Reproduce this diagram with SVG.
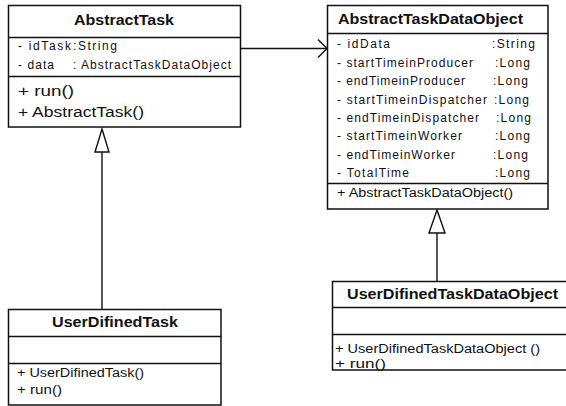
<svg xmlns="http://www.w3.org/2000/svg" width="566" height="406" viewBox="0 0 566 406">
<style>
.box{fill:#fff;stroke:#111;stroke-width:1.5}
.div{stroke:#111;stroke-width:1.3;fill:none}
.t{font-family:"Liberation Sans",Arial,sans-serif;fill:#111}
.title{font-size:15px;font-weight:bold}
.attr{font-size:12px}
.meth{font-size:14px}
.conn{stroke:#111;stroke-width:1.4;fill:none}
.tri{fill:#fff;stroke:#111;stroke-width:1.4}
</style>
<rect width="566" height="406" fill="#fff"/>
<g id="connectors">
  <line class="conn" x1="240" y1="48.5" x2="326" y2="48.5"/>
  <polyline class="conn" points="318,39.5 327,48.5 318,57.5"/>
  <line class="conn" x1="102" y1="152" x2="102" y2="309"/>
  <polygon class="tri" points="102,129 95,152 109,152"/>
  <line class="conn" x1="437" y1="233" x2="437" y2="281"/>
  <polygon class="tri" points="437,210 429,233 445,233"/>
</g>
<g id="AbstractTask">
  <rect class="box" x="8.5" y="5.5" width="232" height="121.5"/>
  <line class="div" x1="8.5" y1="37.5" x2="240.5" y2="37.5"/>
  <line class="div" x1="8.5" y1="76.5" x2="240.5" y2="76.5"/>
  <text class="t title" x="74" y="24.5" textLength="100" lengthAdjust="spacingAndGlyphs">AbstractTask</text>
  <text class="t attr" x="18" y="50"><tspan x="18" textLength="53">- idTask</tspan><tspan x="73" textLength="44">:String</tspan></text>
  <text class="t attr" x="18" y="68.5"><tspan x="18" textLength="36">- data</tspan><tspan x="73" textLength="158">: AbstractTaskDataObject</tspan></text>
  <text class="t meth" x="18" y="96" textLength="56" lengthAdjust="spacingAndGlyphs">+ run()</text>
  <text class="t meth" x="18" y="117" textLength="126" lengthAdjust="spacingAndGlyphs">+ AbstractTask()</text>
</g>
<g id="AbstractTaskDataObject">
  <rect class="box" x="327.5" y="5.5" width="220.5" height="203.5"/>
  <line class="div" x1="327.5" y1="33.5" x2="548" y2="33.5"/>
  <line class="div" x1="327.5" y1="183.5" x2="548" y2="183.5"/>
  <text class="t title" x="338" y="23.5" textLength="185" lengthAdjust="spacingAndGlyphs">AbstractTaskDataObject</text>
  <text class="t attr" y="48"><tspan x="337" textLength="53">- idData</tspan><tspan x="492" textLength="43">:String</tspan></text>
  <text class="t attr" y="66.5"><tspan x="337" textLength="136">- startTimeinProducer</tspan><tspan x="495" textLength="35">:Long</tspan></text>
  <text class="t attr" y="85"><tspan x="337" textLength="128">- endTimeinProducer</tspan><tspan x="493" textLength="35">:Long</tspan></text>
  <text class="t attr" y="103.5"><tspan x="337" textLength="150">- startTimeinDispatcher</tspan><tspan x="494" textLength="35">:Long</tspan></text>
  <text class="t attr" y="122"><tspan x="337" textLength="142">- endTimeinDispatcher</tspan><tspan x="496" textLength="35">:Long</tspan></text>
  <text class="t attr" y="140"><tspan x="337" textLength="125">- startTimeinWorker</tspan><tspan x="495" textLength="35">:Long</tspan></text>
  <text class="t attr" y="158.5"><tspan x="337" textLength="118">- endTimeinWorker</tspan><tspan x="493" textLength="35">:Long</tspan></text>
  <text class="t attr" y="177"><tspan x="337" textLength="72">- TotalTime</tspan><tspan x="495" textLength="35">:Long</tspan></text>
  <text class="t attr" x="337" y="197" textLength="176" lengthAdjust="spacingAndGlyphs">+ AbstractTaskDataObject()</text>
</g>
<g id="UserDifinedTask">
  <rect class="box" x="8.5" y="309.5" width="212.5" height="95.5"/>
  <line class="div" x1="8.5" y1="336.5" x2="221" y2="336.5"/>
  <line class="div" x1="8.5" y1="363.5" x2="221" y2="363.5"/>
  <text class="t title" x="52" y="326.5" textLength="126" lengthAdjust="spacingAndGlyphs">UserDifinedTask</text>
  <text class="t attr" x="17" y="377" textLength="127" lengthAdjust="spacingAndGlyphs">+ UserDifinedTask()</text>
  <text class="t attr" x="17" y="394" textLength="45" lengthAdjust="spacingAndGlyphs">+ run()</text>
</g>
<g id="UserDifinedTaskDataObject">
  <rect class="box" x="332.5" y="281.5" width="240" height="88.5"/>
  <line class="div" x1="332.5" y1="307.5" x2="572" y2="307.5"/>
  <line class="div" x1="332.5" y1="334.5" x2="572" y2="334.5"/>
  <text class="t title" x="347" y="298.5" textLength="211" lengthAdjust="spacingAndGlyphs">UserDifinedTaskDataObject</text>
  <text class="t attr" x="335" y="353" textLength="205" lengthAdjust="spacingAndGlyphs">+ UserDifinedTaskDataObject ()</text>
  <text class="t attr" x="335" y="367.5" textLength="51" lengthAdjust="spacingAndGlyphs">+ run()</text>
</g>
</svg>
